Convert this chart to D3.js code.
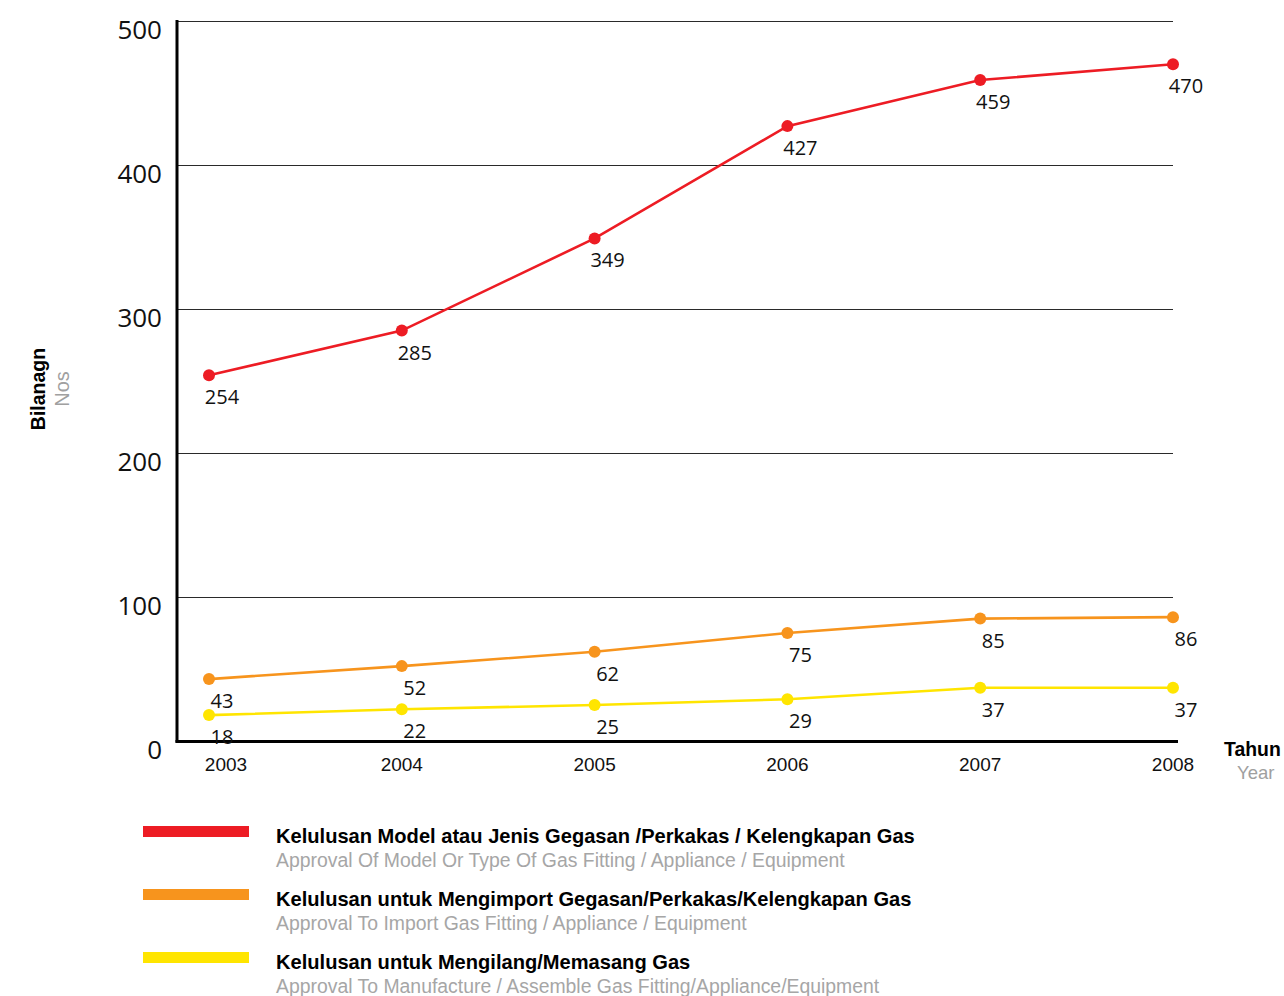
<!DOCTYPE html>
<html><head><meta charset="utf-8">
<script src="https://cdn.jsdelivr.net/npm/d3@7"></script>
<style>body{margin:0;background:#fff}svg{display:block}</style>
</head><body>
<svg id="c" width="1284" height="996"></svg>
<script>
const years = ["2003","2004","2005","2006","2007","2008"];
const modelApproval = [254,285,349,427,459,470];
const importApproval = [43,52,62,75,85,86];
const manufactureApproval = [18,22,25,29,37,37];
const yTicks = [0,100,200,300,400,500];
const seriesNames = [
  ["Kelulusan Model atau Jenis Gegasan /Perkakas / Kelengkapan Gas","Approval Of Model Or Type Of Gas Fitting / Appliance / Equipment"],
  ["Kelulusan untuk Mengimport Gegasan/Perkakas/Kelengkapan Gas","Approval To Import Gas Fitting / Appliance / Equipment"],
  ["Kelulusan untuk Mengilang/Memasang Gas","Approval To Manufacture / Assemble Gas Fitting/Appliance/Equipment"]
];
const colors = ["#ED1C24","#F7941D","#FFE500"];
const series = [modelApproval, importApproval, manufactureApproval];

const svg = d3.select("#c");
const x = d3.scalePoint().domain(years).range([209,1173]);
const y = d3.scaleLinear().domain([0,500]).range([741,21]);
const numFont = "'Open Sans', sans-serif";
const sansFont = "'Liberation Sans', Arial, sans-serif";

// gridlines
svg.append("g").selectAll("line").data(yTicks.filter(d=>d>0)).join("line")
  .attr("x1",177).attr("x2",1173).attr("y1",d=>y(d)+0.5).attr("y2",d=>y(d)+0.5)
  .attr("stroke","#2a2a2a").attr("stroke-width",1);

// y tick labels
svg.append("g").selectAll("text").data(yTicks).join("text")
  .attr("x",162).attr("y",d=>y(d)+18).attr("text-anchor","end")
  .attr("font-family",numFont).attr("font-size",26).attr("fill","#111")
  .text(d=>d);

// axes lines
svg.append("line").attr("x1",177).attr("x2",177).attr("y1",y(500)-1).attr("y2",y(0)+1.5)
  .attr("stroke","#000").attr("stroke-width",3);
svg.append("line").attr("x1",175.5).attr("x2",1178).attr("y1",y(0)+0.5).attr("y2",y(0)+0.5)
  .attr("stroke","#000").attr("stroke-width",3);

// x tick labels
svg.append("g").selectAll("text").data(years).join("text")
  .attr("x",(d,i)=>x(d)+(i===0?17:0)).attr("y",771).attr("text-anchor","middle")
  .attr("font-family",sansFont).attr("font-size",19).attr("fill","#111")
  .text(d=>d);

// lines
const line = d3.line().x((d,i)=>x(years[i])).y(d=>y(d));
series.forEach((s,k)=>{
  const g = svg.append("g");
  g.append("path").datum(s).attr("d",line).attr("fill","none")
    .attr("stroke",colors[k]).attr("stroke-width",2.6);
  g.selectAll("circle").data(s).join("circle")
    .attr("cx",(d,i)=>x(years[i])).attr("cy",d=>y(d)).attr("r",6)
    .attr("fill",colors[k]);
  g.selectAll("text").data(s).join("text")
    .attr("x",(d,i)=>x(years[i])+13).attr("y",d=>y(d)+29)
    .attr("text-anchor","middle").attr("font-family",numFont)
    .attr("font-size",20).attr("fill","#111").text(d=>d);
});

// axis titles
const yt = svg.append("g").attr("transform","translate(45,389) rotate(-90)");
yt.append("text").attr("text-anchor","middle").attr("font-family",sansFont)
  .attr("font-weight","bold").attr("font-size",19.5).attr("fill","#000").text("Bilanagn");
yt.append("text").attr("y",24).attr("text-anchor","middle").attr("font-family",sansFont)
  .attr("font-size",20).attr("fill","#a0a0a0").text("Nos");
svg.append("text").attr("x",1224).attr("y",756).attr("font-family",sansFont)
  .attr("font-weight","bold").attr("font-size",19.4).attr("fill","#000").text("Tahun");
svg.append("text").attr("x",1237).attr("y",779).attr("font-family",sansFont)
  .attr("font-size",18.5).attr("fill","#a0a0a0").text("Year");

// legend
const leg = svg.append("g").selectAll("g").data(seriesNames).join("g")
  .attr("transform",(d,i)=>`translate(0,${i*63})`);
leg.append("rect").attr("x",143).attr("y",826).attr("width",106).attr("height",11)
  .attr("fill",(d,i)=>colors[i]);
leg.append("text").attr("x",276).attr("y",843).attr("font-family",sansFont)
  .attr("font-weight","bold").attr("font-size",20.1).attr("fill","#000").text(d=>d[0]);
leg.append("text").attr("x",276).attr("y",867).attr("font-family",sansFont)
  .attr("font-size",19.4).attr("fill","#a6a6a6").text(d=>d[1]);
</script>
</body></html>
